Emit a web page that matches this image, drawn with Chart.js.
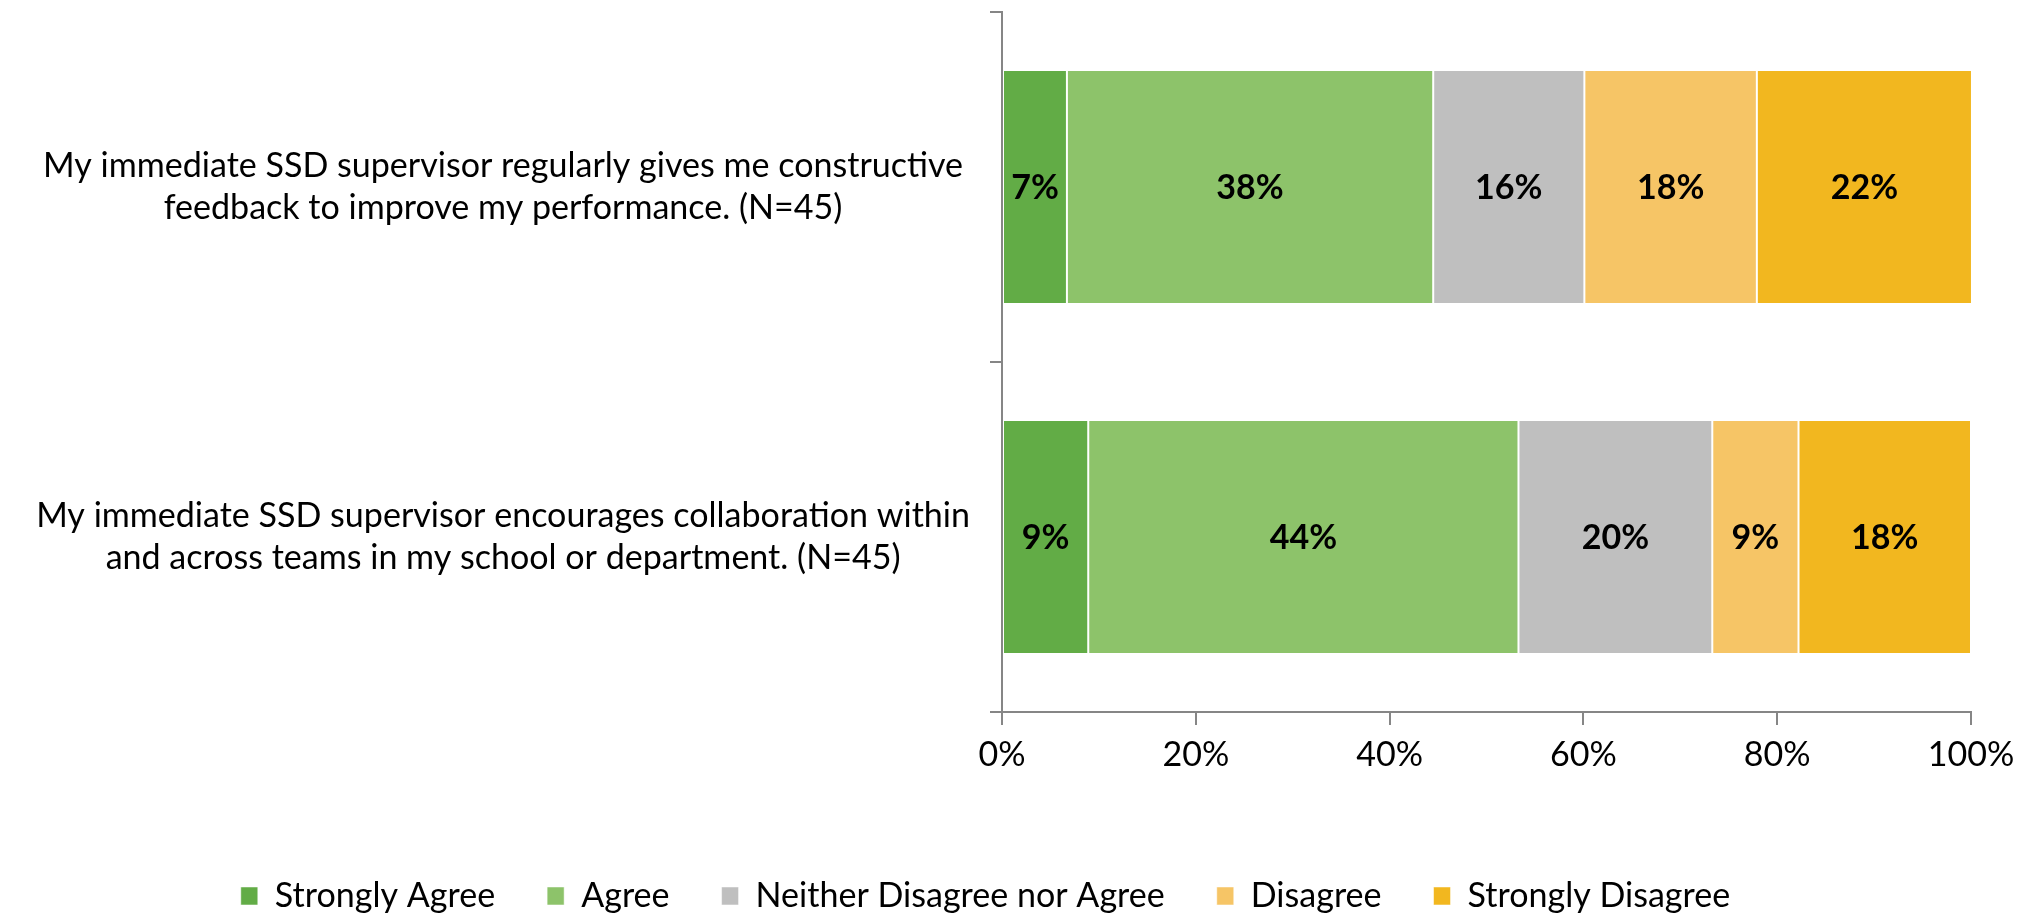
<!DOCTYPE html>
<html>
<head>
<meta charset="utf-8">
<script src="https://cdn.jsdelivr.net/npm/chart.js@4/dist/chart.umd.min.js"></script>
<style>
  html, body { margin: 0; padding: 0; background: #ffffff; }
  canvas { display: block; }
</style>
</head>
<body>
<canvas id="c" width="2035" height="923"></canvas>
<script>
// ---- data ----
const categories = [
  ["My immediate SSD supervisor regularly gives me constructive", "feedback to improve my performance. (N=45)"],
  ["My immediate SSD supervisor encourages collaboration within", "and across teams in my school or department. (N=45)"]
];
const seriesNames = ["Strongly Agree", "Agree", "Neither Disagree nor Agree", "Disagree", "Strongly Disagree"];
const stronglyAgree    = [6.7, 8.9];
const agree            = [37.8, 44.4];
const neither          = [15.6, 20.0];
const disagree         = [17.8, 8.9];
const stronglyDisagree = [22.2, 17.8];
const xTicks = [0, 20, 40, 60, 80, 100];

const seriesColors = ["#62AC46", "#8DC36A", "#BFBFBF", "#F6C566", "#F2B71F"];
const FAMILY = "Lato, 'Open Sans', sans-serif";

// fit font size so the longest category line matches the reference width
const mctx = document.createElement('canvas').getContext('2d');
mctx.font = "36px " + FAMILY;
const longest = Math.max(...categories.flat().map(t => mctx.measureText(t).width));
const FS = Math.min(36, 36 * 934 / longest);

const axisGray = "#868686";

const dataLabelPlugin = {
  id: 'dataLabels',
  afterDatasetsDraw(chart) {
    const ctx = chart.ctx;
    ctx.save();
    ctx.font = "bold " + FS + "px " + FAMILY;
    ctx.fillStyle = "#000000";
    ctx.textAlign = "center";
    ctx.textBaseline = "middle";
    chart.data.datasets.forEach((ds, i) => {
      const meta = chart.getDatasetMeta(i);
      meta.data.forEach((bar, j) => {
        const v = ds.data[j];
        const p = bar.getProps(['x', 'y', 'base'], true);
        const cx = (p.x + p.base) / 2;
        ctx.fillText(Math.round(v) + "%", cx, p.y + 1);
      });
    });
    ctx.restore();
  }
};

const allSeries = [stronglyAgree, agree, neither, disagree, stronglyDisagree];

new Chart(document.getElementById('c'), {
  type: 'bar',
  data: {
    labels: categories,
    datasets: allSeries.map((d, i) => ({
      label: seriesNames[i],
      data: d,
      backgroundColor: seriesColors[i],
      borderColor: "#ffffff",
      borderWidth: {left: 1, right: 1, top: 0, bottom: 0},
      borderSkipped: false,
      categoryPercentage: 1,
      barPercentage: 0.663
    }))
  },
  options: {
    indexAxis: 'y',
    responsive: false,
    animation: false,
    devicePixelRatio: 1,
    layout: { padding: { top: 12, right: 64, left: 0, bottom: 0 } },
    scales: {
      x: {
        stacked: true,
        min: 0, max: 100,
        afterBuildTicks: (s) => { s.ticks = xTicks.map(v => ({value: v})); },
        afterFit: (s) => { s.height = 115; },
        ticks: {
          callback: (v) => v + "%",
          color: "#000000",
          font: { family: FAMILY, size: FS },
          padding: 10,
          maxRotation: 0
        },
        grid: { drawOnChartArea: false, drawTicks: true, tickLength: 13, color: axisGray, lineWidth: 2 },
        border: { display: true, color: axisGray, width: 2 }
      },
      y: {
        stacked: true,
        z: 1,
        afterFit: (s) => { s.width = 1002; s.paddingTop = 0; s.paddingBottom = 0; },
        ticks: {
          color: "#000000",
          font: { family: FAMILY, size: FS, lineHeight: 1.22 },
          crossAlign: 'center',
          padding: 20
        },
        grid: { drawOnChartArea: false, drawTicks: true, tickLength: 12, color: axisGray, lineWidth: 2, offset: true },
        border: { display: true, color: axisGray, width: 2 }
      }
    },
    plugins: {
      legend: {
        position: 'bottom',
        labels: {
          boxWidth: 17,
          boxHeight: 18,
          padding: 52,
          color: "#000000",
          font: { family: FAMILY, size: FS }
        }
      },
      tooltip: { enabled: false }
    }
  },
  plugins: [dataLabelPlugin]
});
</script>
</body>
</html>
